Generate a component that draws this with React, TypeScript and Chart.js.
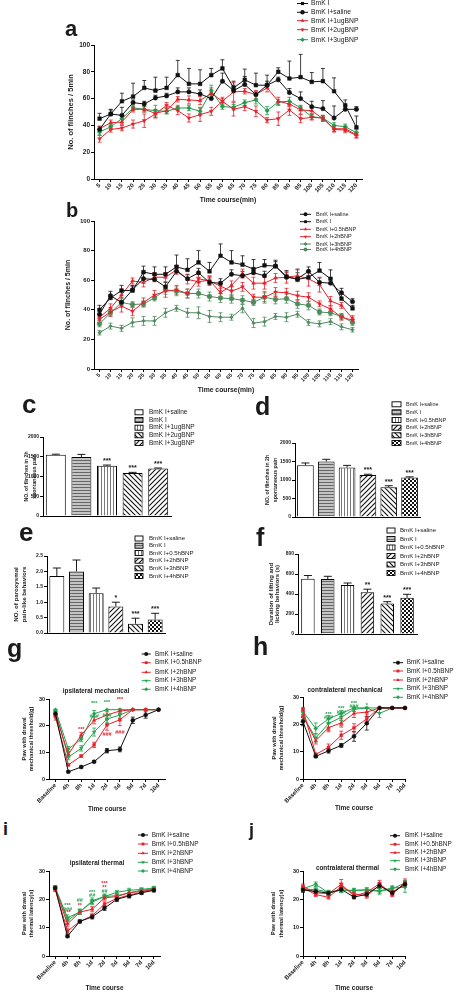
import React, { useEffect, useRef } from 'react';
import { Chart, registerables } from 'chart.js';

Chart.register(...registerables);

const FONT = '"Liberation Sans", Arial, Helvetica, sans-serif';
Chart.defaults.font.family = FONT;
Chart.defaults.color = '#1a1a1a';

const BLACK = '#111111';
const RED = '#e4222b';
const GREEN_A = '#1f9b4c';
const GREEN_B = '#4e8a5b';
const GREEN = '#22a34f';
const TEXT = '#1a1a1a';

// ---------------- Panel a ----------------
const timeLabels = ['5', '10', '15', '20', '25', '30', '35', '40', '45', '50', '55', '60', '65', '70', '75', '80', '85', '90', '95', '100', '105', '110', '115', '120'];
const aBmkI = [45, 48.5, 58, 61.5, 68, 66, 68, 77.5, 71, 71, 77.5, 82.5, 68, 74, 70, 70, 80, 75, 76, 72.5, 73, 65.5, 55, 38.5];
const aBmkIErr = [4, 3.5, 6, 10, 5.5, 10, 8, 11, 11.5, 10.5, 5, 6.5, 5, 8, 9, 7.5, 3, 13, 17, 7, 9.5, 10, 4, 8.5];
const aSaline = [37, 48.5, 47.5, 57, 56, 60.5, 62, 65, 65, 63.5, 60, 73, 66, 70.5, 63, 70, 74, 64.5, 60, 54, 52.5, 45.5, 52, 52];
const aSalineErr = [2, 3, 6, 2, 2, 2, 2, 3, 3, 3, 3, 6, 4, 6, 2, 3, 2, 3, 5, 4, 6, 9, 3, 2];
const a1ug = [37.5, 42, 42.5, 52, 52, 49, 51, 59.5, 59, 58.5, 64, 58, 65, 65.5, 63, 68, 58, 56, 51.5, 51, 45, 37.5, 37.5, 33];
const a1ugErr = [2, 2, 2, 2, 2, 3, 2, 2, 3, 3, 4, 2, 7, 2, 3, 3, 3, 2, 3, 2, 2, 2, 2, 2];
const a2ug = [30, 37, 38, 41, 43.5, 48.5, 55, 51, 45.5, 48, 50.5, 58, 52, 54, 50.5, 44, 45, 51.5, 45, 46, 45.5, 37, 36.5, 32.5];
const a2ugErr = [2.5, 2, 2, 3, 5, 3, 2, 3, 3, 5, 3, 3, 5, 3, 4, 2, 5, 4, 3, 2, 2, 2, 2, 2];
const a3ug = [35, 39, 45, 53, 52, 51, 50.5, 53, 53, 50.5, 66, 54, 53.5, 57, 59, 51, 57.5, 58, 53, 46.5, 45.5, 40, 39, 34.5];
const a3ugErr = [2, 2, 3, 2, 2, 4, 2, 2, 2, 3, 4, 2, 2, 2, 3, 3, 2, 3, 2, 2, 2, 2, 2, 2];

// ---------------- Panel b ----------------
const bSaline = [37, 49.5, 45, 53.5, 61, 60.5, 55.5, 66, 61, 65, 58.5, 58, 64, 63, 65, 63, 69.5, 62, 61, 66, 58.5, 58, 51.5, 45.5];
const bSalineErr = [3, 3, 3, 3, 4, 3, 3, 4, 3, 3, 3, 3, 3, 3, 3, 3, 3, 3, 4, 3, 3, 3, 3, 2];
const bBmkI = [40, 48, 53, 53, 65.5, 64, 64, 69, 67, 72, 66, 76.5, 72, 70.5, 67.5, 70, 69.5, 62.5, 60.5, 62, 66.5, 61, 47.5, 41];
const bBmkIErr = [3, 2, 3.5, 3, 4, 5, 5, 8, 7.5, 8, 6, 8, 8, 6, 6.5, 4, 4, 4, 7, 4, 5.5, 6, 4, 2];
const b05h = [35, 41, 50, 59.5, 58.5, 62, 62, 67, 60.5, 59, 60, 51.5, 56.5, 64.5, 58, 58, 61.5, 62, 63, 61, 57, 46, 43, 34];
const b05hErr = [2, 3, 4, 2, 3, 3, 3, 3, 3, 3, 3, 3, 3, 3, 4, 4, 3, 4, 4, 5, 5, 3, 2, 2];
const b2h = [33.5, 38.5, 42.5, 39, 45, 50, 52.5, 53.5, 51, 61, 59.5, 56, 52.5, 55.5, 48.5, 48.5, 52, 51.5, 49.5, 48.5, 44, 40.5, 35, 33];
const b2hErr = [2, 3, 4, 3, 3, 3, 4, 3, 3, 3, 3, 3, 3, 3, 2, 3, 3, 3, 3, 3, 2, 2, 2, 2];
const b3h = [24.5, 29, 27.5, 31.5, 32.5, 32.5, 38, 41, 38, 38, 35.5, 35, 35, 41, 31, 32, 35.5, 35, 37, 31.5, 30.5, 32, 28.5, 26.5];
const b3hErr = [1.5, 2, 2, 3, 3, 3, 3, 2, 3, 4, 4, 3, 2, 3, 3, 3, 2, 3, 2, 2, 2, 2, 2, 1.5];
const b4h = [30.5, 38, 45, 43.5, 44, 48, 53.5, 52.5, 51, 51, 49, 48, 47.5, 46.5, 45, 48.5, 47, 47.5, 44, 43, 38.5, 38, 35.5, 31.5];
const b4hErr = [2, 2, 3, 2, 2, 2, 3, 3, 3, 3, 3, 3, 3, 3, 2, 4, 3, 3, 3, 3, 2, 2, 2, 2];

// ---------------- Bar panels c-f ----------------
const cLabels = ['BmK I+saline', 'BmK I', 'BmK I+1ugBNP', 'BmK I+2ugBNP', 'BmK I+3ugBNP'];
const cValues = [1550, 1495, 1270, 1090, 1200];
const cErr = [15, 65, 20, 15, 15];
const cStars = ['', '', '***', '***', '***'];

const sixLabels = ['BmK I+saline', 'BmK I', 'BmK I+0.5hBNP', 'BmK I+2hBNP', 'BmK I+3hBNP', 'BmK I+4hBNP'];
const dValues = [1400, 1500, 1340, 1135, 805, 1065];
const dErr = [60, 60, 55, 20, 40, 20];
const dStars = ['', '', '', '***', '***', '***'];
const eValues = [1.85, 2.0, 1.29, 0.86, 0.3, 0.44];
const eErr = [0.26, 0.37, 0.17, 0.14, 0.18, 0.2];
const eStars = ['', '', '', '*', '***', '***'];
const fValues = [552, 550, 490, 418, 305, 362];
const fErr = [33, 27, 20, 30, 18, 35];
const fStars = ['', '', '', '**', '***', '***'];

// ---------------- Panels g-j ----------------
const courseLabels = ['Baseline', '4h', '8h', '1d', '2d', '3d', '5d', '7d', '10d'];
const groupLabels = ['BmK I+saline', 'BmK I+0.5hBNP', 'BmK I+2hBNP', 'BmK I+3hBNP', 'BmK I+4hBNP'];

const gSaline = [24.5, 2.7, 4.5, 6.5, 10.6, 11.1, 22, 24, 26];
const gSalineErr = [0.8, 0.3, 0.4, 0.4, 0.8, 0.9, 1.2, 1.2, 0];
const g05h = [23.3, 5.3, 8.6, 12.8, 20.3, 22.2, 26, 26, 26];
const g05hErr = [1.2, 0.4, 0.4, 1, 2, 2.2, 0, 0, 0];
const g2h = [24.5, 9.2, 16.5, 22, 24, 25.5, 26, 26, 26];
const g2hErr = [1, 1, 1, 1.3, 1.2, 0.8, 0, 0, 0];
const g3h = [25.5, 8.2, 11.5, 17.6, 22.5, 24, 26, 26, 26];
const g3hErr = [0.5, 1, 1, 1.5, 1.5, 1.2, 0, 0, 0];
const g4h = [26, 11.2, 15, 24.5, 26, 26, 26, 26, 26];
const g4hErr = [0, 1, 1, 1.2, 0, 0, 0, 0, 0];
const gNotes: [number, number, string, string][] = [
  [2, 18.6, '***', 'r'], [3, 28.3, '***', 'g'], [3, 23.3, '###', 'g'], [4, 28.8, '***', 'g'],
  [4, 23.8, '###', 'g'], [4, 16.8, '###', 'r'], [5, 29.8, '***', 'r'], [5, 17.5, '###', 'r'],
];

const hSaline = [21, 8.3, 10.3, 12.3, 15.6, 20.4, 26, 26, 26];
const hSalineErr = [1.5, 0.5, 0.8, 0.7, 1.8, 2.5, 0, 0, 0];
const h05h = [25.5, 9, 11.6, 16, 18.7, 22, 26, 26, 26];
const h05hErr = [0.6, 0.5, 1.2, 1.5, 1.5, 1.8, 0, 0, 0];
const h2h = [23, 14, 18.8, 20.5, 24, 24.5, 26, 26, 26];
const h2hErr = [1.2, 1.2, 1.5, 1.5, 1.5, 1.5, 0, 0, 0];
const h3h = [23, 15, 20.3, 22.6, 25.5, 26, 24, 26, 26];
const h3hErr = [1.5, 1.5, 1.5, 1.2, 0.8, 0, 1.5, 0, 0];
const h4h = [24.6, 18.5, 22, 24, 26, 26, 26, 26, 26];
const h4hErr = [1, 2, 1.2, 1, 0, 0, 0, 0, 0];
const hNotes: [number, number, string, string][] = [
  [2, 23.7, '***', 'g'], [2, 22.4, '###', 'g'], [2, 17.3, '**', 'r'], [3, 25.8, '***', 'g'],
  [3, 24.3, '###', 'g'], [3, 19.3, '**', 'r'], [4, 27.8, '***', 'g'], [4, 26.6, '###', 'g'], [5, 27, '*', 'g'],
];

const iSaline = [24, 7, 12.2, 13.8, 16.9, 20, 21.2, 22.3, 23.2];
const iSalineErr = [0.6, 0.5, 0.5, 0.7, 0.8, 0.8, 0.7, 0.6, 0.6];
const i05h = [23.5, 8.8, 12.2, 14.2, 18.3, 20.3, 21.5, 22.5, 23.5];
const i05hErr = [0.7, 0.8, 0.5, 0.7, 0.8, 0.8, 0.8, 0.6, 0.6];
const i2h = [24, 11.3, 15.5, 16.5, 20.5, 21, 22.3, 22.8, 23.5];
const i2hErr = [0.7, 1.0, 0.8, 0.9, 0.8, 0.7, 0.8, 0.6, 0.6];
const i3h = [24.3, 12.5, 15.7, 19, 21, 22.5, 23.2, 23.5, 24];
const i3hErr = [0.6, 1.0, 0.9, 0.9, 0.8, 0.6, 0.7, 0.6, 0.6];
const i4h = [24.2, 13.5, 15.5, 19.5, 21, 21.3, 22.3, 23.2, 23.8];
const i4hErr = [0.6, 1.0, 0.8, 1.0, 0.8, 0.7, 0.8, 0.6, 0.6];
const iNotes: [number, number, string, string][] = [
  [1, 17.8, '***', 'g'], [1, 16.5, '###', 'g'], [1, 15.3, '***', 'r'], [2, 19.5, '##', 'g'], [2, 17.9, '**', 'r'],
  [3, 22.5, '***', 'g'], [3, 21.2, '##', 'g'], [4, 25.7, '***', 'r'], [4, 24.1, '**', 'r'], [4, 22.7, '##', 'g'],
];

const jSaline = [23.3, 22.8, 22.2, 23.5, 20.8, 21.8, 24.8, 22.3, 25.3];
const jSalineErr = [0.8, 0.8, 0.7, 0.9, 0.6, 0.9, 0.9, 0.8, 0.9];
const j05h = [24.5, 22.3, 22, 25.3, 21.2, 22.5, 25.5, 21.8, 26];
const j05hErr = [0.9, 0.8, 0.7, 1.7, 0.7, 0.9, 1.2, 0.8, 1.2];
const j2h = [24, 21.7, 20.7, 24.5, 22, 21.2, 25, 22.5, 25.5];
const j2hErr = [0.8, 0.7, 0.6, 1.2, 0.8, 0.8, 1.0, 0.8, 1.0];
const j3h = [23.5, 23.5, 22.5, 23.3, 23, 23.3, 22.8, 23.7, 25.8];
const j3hErr = [0.8, 0.8, 0.7, 0.8, 0.7, 0.7, 1.0, 0.8, 0.9];
const j4h = [23.8, 25.3, 22.3, 23.2, 23.2, 23.4, 23, 24, 24.3];
const j4hErr = [0.8, 0.8, 0.7, 0.8, 0.7, 0.7, 0.8, 0.8, 1.8];

// ---------------- helpers ----------------
type Geo = { cl: number; ct: number; cw: number; ch: number; pl: number; pt: number; pr: number; pb: number };

function makePattern(kind: string): any {
  if (kind === 'white') return '#ffffff';
  const c = document.createElement('canvas');
  const ctx = c.getContext('2d')!;
  if (kind === 'hlines') {
    c.width = 4; c.height = 3;
    ctx.fillStyle = '#c4c4c4'; ctx.fillRect(0, 0, 4, 3);
    ctx.fillStyle = '#666666'; ctx.fillRect(0, 0, 4, 1);
  } else if (kind === 'vlines') {
    c.width = 3; c.height = 4;
    ctx.fillStyle = '#ffffff'; ctx.fillRect(0, 0, 3, 4);
    ctx.fillStyle = '#7a7a7a'; ctx.fillRect(0, 0, 1, 4);
  } else if (kind === 'diagF' || kind === 'diagB') {
    c.width = 5; c.height = 5;
    ctx.fillStyle = '#ffffff'; ctx.fillRect(0, 0, 5, 5);
    if (kind === 'diagB') { ctx.translate(5, 0); ctx.scale(-1, 1); }
    ctx.strokeStyle = '#111111'; ctx.lineWidth = 1.1;
    ctx.beginPath();
    ctx.moveTo(0, 5); ctx.lineTo(5, 0);
    ctx.moveTo(-1, 1); ctx.lineTo(1, -1);
    ctx.moveTo(4, 6); ctx.lineTo(6, 4);
    ctx.stroke();
  } else if (kind === 'check') {
    c.width = 4; c.height = 4;
    ctx.fillStyle = '#ffffff'; ctx.fillRect(0, 0, 4, 4);
    ctx.fillStyle = '#111111'; ctx.fillRect(0, 0, 2, 2); ctx.fillRect(2, 2, 2, 2);
  }
  return ctx.createPattern(c, 'repeat');
}

function drawMarker(ctx: CanvasRenderingContext2D, style: string, rot: number, x: number, y: number, r: number, color: string) {
  ctx.save();
  ctx.translate(x, y);
  ctx.rotate((rot * Math.PI) / 180);
  ctx.fillStyle = color;
  ctx.beginPath();
  if (style === 'circle') {
    ctx.arc(0, 0, r, 0, Math.PI * 2);
  } else if (style === 'rect') {
    const s = r / Math.SQRT2;
    ctx.rect(-s, -s, 2 * s, 2 * s);
  } else if (style === 'rectRot') {
    ctx.moveTo(0, -r); ctx.lineTo(r, 0); ctx.lineTo(0, r); ctx.lineTo(-r, 0); ctx.closePath();
  } else if (style === 'triangle') {
    ctx.moveTo(0, -r); ctx.lineTo(r * 0.866, r * 0.5); ctx.lineTo(-r * 0.866, r * 0.5); ctx.closePath();
  }
  ctx.fill();
  ctx.restore();
}

function drawErrors(chart: any, cap: number) {
  const ctx = chart.ctx;
  const ys = chart.scales.y;
  chart.data.datasets.forEach((ds: any, i: number) => {
    const errs = ds.errors;
    if (!errs) return;
    const meta = chart.getDatasetMeta(i);
    ctx.save();
    ctx.strokeStyle = ds.errorColor || (typeof ds.borderColor === 'string' ? ds.borderColor : '#000');
    ctx.lineWidth = ds.errorWidth || 0.8;
    meta.data.forEach((el: any, j: number) => {
      const v = ds.data[j];
      const e = errs[j];
      if (!e) return;
      const x = el.x;
      const y0 = ys.getPixelForValue(v);
      const dir = ds.errorDir || 'both';
      const ends: number[] = [];
      if (dir !== 'down') ends.push(ys.getPixelForValue(v + e));
      if (dir !== 'up') ends.push(ys.getPixelForValue(v - e));
      ctx.beginPath();
      ends.forEach((y1) => {
        ctx.moveTo(x, y0); ctx.lineTo(x, y1);
        ctx.moveTo(x - cap, y1); ctx.lineTo(x + cap, y1);
      });
      ctx.stroke();
    });
    ctx.restore();
  });
}

interface Decor {
  geo: Geo;
  bar?: boolean;
  cap: number;
  legend?: { x: number; len?: number; boxW?: number; boxH?: number; textX: number; ys: number[]; size: number; r?: number };
  stars?: string[];
  starSize?: number;
  notes?: [number, number, string, string][];
  noteSize?: number;
  texts?: { text: string; x: number; y: number; size: number }[];
}

function decorPlugin(o: Decor) {
  const ox = o.geo.cl;
  const oy = o.geo.ct;
  return {
    id: 'decor',
    beforeDatasetsDraw(chart: any) {
      if (!o.bar) drawErrors(chart, o.cap);
    },
    afterDatasetsDraw(chart: any) {
      const ctx = chart.ctx;
      if (o.bar) {
        drawErrors(chart, o.cap);
        const ds = chart.data.datasets[0];
        const meta = chart.getDatasetMeta(0);
        ctx.save();
        ctx.font = `bold ${o.starSize || 7}px ${FONT}`;
        ctx.fillStyle = TEXT;
        ctx.textAlign = 'center';
        ctx.textBaseline = 'middle';
        (o.stars || []).forEach((s, k) => {
          if (!s) return;
          const y = chart.scales.y.getPixelForValue(ds.data[k] + ds.errors[k]) - 4;
          ctx.fillText(s, meta.data[k].x, y);
        });
        ctx.restore();
      }
      if (o.notes) {
        ctx.save();
        ctx.font = `bold ${o.noteSize || 5.5}px ${FONT}`;
        ctx.textAlign = 'center';
        ctx.textBaseline = 'middle';
        o.notes.forEach(([i, v, t, c]) => {
          ctx.fillStyle = c === 'r' ? RED : GREEN;
          ctx.fillText(t, chart.scales.x.getPixelForValue(i), chart.scales.y.getPixelForValue(v));
        });
        ctx.restore();
      }
    },
    afterDraw(chart: any) {
      const ctx = chart.ctx;
      const L = o.legend;
      if (L) {
        ctx.save();
        ctx.font = `${L.size}px ${FONT}`;
        ctx.textBaseline = 'middle';
        ctx.textAlign = 'left';
        if (o.bar) {
          const ds = chart.data.datasets[0];
          const bw = L.boxW || 8;
          const bh = L.boxH || 5;
          chart.data.labels.forEach((lab: string, k: number) => {
            const y = L.ys[k] - oy;
            const x = L.x - ox;
            ctx.fillStyle = ds.backgroundColor[k];
            ctx.fillRect(x, y - bh / 2, bw, bh);
            ctx.strokeStyle = '#000';
            ctx.lineWidth = 0.9;
            ctx.strokeRect(x, y - bh / 2, bw, bh);
            ctx.fillStyle = TEXT;
            ctx.fillText(lab, L.textX - ox, y);
          });
        } else {
          chart.data.datasets.forEach((ds: any, k: number) => {
            const y = L.ys[k] - oy;
            const x = L.x - ox;
            const len = L.len || 10;
            ctx.strokeStyle = ds.borderColor;
            ctx.lineWidth = 1;
            ctx.beginPath();
            ctx.moveTo(x, y); ctx.lineTo(x + len, y);
            ctx.stroke();
            drawMarker(ctx, ds.pointStyle, ds.pointRotation || 0, x + len / 2, y, L.r || 2.2, ds.borderColor);
            ctx.fillStyle = TEXT;
            ctx.fillText(ds.label, L.textX - ox, y);
          });
        }
        ctx.restore();
      }
      if (o.texts) {
        ctx.save();
        ctx.textAlign = 'center';
        ctx.textBaseline = 'middle';
        ctx.fillStyle = TEXT;
        o.texts.forEach((t) => {
          ctx.font = `bold ${t.size}px ${FONT}`;
          ctx.fillText(t.text, t.x - ox, t.y - oy);
        });
        ctx.restore();
      }
    },
  };
}

interface AxisOpts {
  yMax: number; yStep: number; yTitle: string | string[]; yTick: number; yTitleSize: number; yTitleLH?: number; yTitlePad: number;
  yFmt?: (v: any) => string;
  xTicks: boolean; xTick?: number; xTitle?: string; xTitleSize?: number; xTitlePad?: number; offset: boolean;
}

function makeScales(geo: Geo, a: AxisOpts) {
  const yW = geo.pl - geo.cl;
  const xH = geo.ct + geo.ch - geo.pb;
  return {
    x: {
      type: 'category',
      offset: a.offset,
      grid: { display: a.xTicks, drawOnChartArea: false, drawTicks: a.xTicks, tickLength: 3, color: '#000', lineWidth: 1, offset: false },
      border: { display: true, color: '#000', width: 1 },
      ticks: {
        display: a.xTicks, autoSkip: false, maxRotation: 45, minRotation: 45, padding: 0,
        font: { size: a.xTick || 6, weight: 'bold' }, color: TEXT,
      },
      title: a.xTitle
        ? { display: true, text: a.xTitle, color: TEXT, font: { size: a.xTitleSize || 6.8, weight: 'bold' }, padding: { top: 0, bottom: a.xTitlePad || 0 } }
        : { display: false },
      afterFit: (s: any) => { s.height = xH; },
    },
    y: {
      min: 0,
      max: a.yMax,
      ticks: { stepSize: a.yStep, padding: 1, font: { size: a.yTick, weight: 'bold' }, color: TEXT, callback: a.yFmt || ((v: any) => String(v)) },
      grid: { drawOnChartArea: false, drawTicks: true, tickLength: 3, color: '#000', lineWidth: 1 },
      border: { display: true, color: '#000', width: 1 },
      title: {
        display: true, text: a.yTitle, color: TEXT,
        font: { size: a.yTitleSize, weight: 'bold', lineHeight: a.yTitleLH || 1.2 },
        padding: { top: a.yTitlePad, bottom: 0 },
      },
      afterFit: (s: any) => { s.width = yW; },
    },
  };
}

function baseOptions(geo: Geo, scales: any) {
  return {
    responsive: false,
    maintainAspectRatio: false,
    animation: false,
    events: [],
    layout: { padding: { left: 0, top: geo.pt - geo.ct, right: geo.cl + geo.cw - geo.pr, bottom: 0 } },
    plugins: { legend: { display: false }, tooltip: { enabled: false }, title: { display: false } },
    scales,
  };
}

function ser(label: string, data: number[], errors: number[], color: string, style: string, rot: number, dir: string, radius = 2.2) {
  return {
    label, data, errors, errorDir: dir,
    borderColor: color, backgroundColor: color,
    pointBackgroundColor: color, pointBorderColor: color,
    pointStyle: style, pointRotation: rot, pointRadius: radius, pointBorderWidth: 0.5,
    borderWidth: 1, tension: 0, fill: false,
  };
}

function lineConfig(geo: Geo, labels: string[], datasets: any[], axis: AxisOpts, decor: Decor) {
  return {
    type: 'line',
    data: { labels, datasets },
    options: baseOptions(geo, makeScales(geo, axis)),
    plugins: [decorPlugin(decor)],
  };
}

function barConfig(geo: Geo, labels: string[], values: number[], errors: number[], patterns: string[], barPct: number, axis: AxisOpts, decor: Decor) {
  return {
    type: 'bar',
    data: {
      labels,
      datasets: [{
        label: 'bars', data: values, errors, errorDir: 'up', errorColor: '#000', errorWidth: 0.9,
        backgroundColor: patterns.map(makePattern), borderColor: '#000', borderWidth: 1,
        barPercentage: barPct, categoryPercentage: 1,
      }],
    },
    options: baseOptions(geo, makeScales(geo, axis)),
    plugins: [decorPlugin({ ...decor, bar: true })],
  };
}

// ---------------- geometry ----------------
const GA: Geo = { cl: 60, ct: 0, cw: 312, ch: 205, pl: 94, pt: 45, pr: 362, pb: 179 };
const GB: Geo = { cl: 60, ct: 205, cw: 308, ch: 190, pl: 94, pt: 221, pr: 358, pb: 369 };
const GC: Geo = { cl: 20, ct: 400, cw: 180, ch: 126, pl: 43, pt: 437, pr: 171, pb: 516 };
const GD: Geo = { cl: 260, ct: 398, cw: 197, ch: 129, pl: 295, pt: 443, pr: 420, pb: 517 };
const GE: Geo = { cl: 12, ct: 530, cw: 188, ch: 113, pl: 47, pt: 556, pr: 165, pb: 633 };
const GF: Geo = { cl: 266, ct: 524, cw: 191, ch: 120, pl: 298, pt: 554, pr: 417, pb: 634 };
const GG: Geo = { cl: 20, ct: 645, cw: 190, ch: 169, pl: 49, pt: 699, pr: 165, pb: 779 };
const GH: Geo = { cl: 270, ct: 645, cw: 187, ch: 169, pl: 303, pt: 697, pr: 405, pb: 779 };
const GI: Geo = { cl: 20, ct: 825, cw: 190, ch: 167, pl: 49, pt: 871, pr: 160, pb: 956 };
const GJ: Geo = { cl: 270, ct: 825, cw: 187, ch: 167, pl: 303, pt: 871, pr: 405, pb: 956 };

const patC = ['white', 'hlines', 'vlines', 'diagB', 'diagF'];
const patSix = ['white', 'hlines', 'vlines', 'diagF', 'diagB', 'check'];

function groupSets(vals: number[][], errs: number[][]) {
  const colors = [BLACK, RED, RED, GREEN, GREEN];
  const styles = ['circle', 'rect', 'triangle', 'triangle', 'rectRot'];
  const rots = [0, 0, 0, 180, 0];
  return groupLabels.map((lab, k) => ser(lab, vals[k], errs[k], colors[k], styles[k], rots[k], 'both', 2));
}

const makeA = () => lineConfig(GA, timeLabels, [
  ser('BmK I', aBmkI, aBmkIErr, BLACK, 'rect', 0, 'up', 2.6),
  ser('BmK I+saline', aSaline, aSalineErr, BLACK, 'circle', 0, 'up'),
  ser('BmK I+1ugBNP', a1ug, a1ugErr, RED, 'triangle', 0, 'both'),
  ser('BmK I+2ugBNP', a2ug, a2ugErr, RED, 'triangle', 180, 'both'),
  ser('BmK I+3ugBNP', a3ug, a3ugErr, GREEN_A, 'rectRot', 0, 'both'),
], { yMax: 100, yStep: 20, yTitle: 'No. of flinches / 5min', yTick: 6.5, yTitleSize: 7.5, yTitlePad: 6, xTicks: true, xTick: 6, xTitle: 'Time course(min)', xTitleSize: 6.8, xTitlePad: 0.9, offset: true },
{ geo: GA, cap: 2, legend: { x: 297, len: 11, textX: 311, ys: [3.5, 12.3, 20.7, 29.7, 39.7], size: 6.75 } });

const makeB = () => lineConfig(GB, timeLabels, [
  ser('BmK I+saline', bSaline, bSalineErr, BLACK, 'circle', 0, 'up'),
  ser('BmK I', bBmkI, bBmkIErr, BLACK, 'rect', 0, 'up', 2.6),
  ser('BmK I+0.5hBNP', b05h, b05hErr, RED, 'triangle', 0, 'both'),
  ser('BmK I+2hBNP', b2h, b2hErr, RED, 'triangle', 180, 'both'),
  ser('BmK I+3hBNP', b3h, b3hErr, GREEN_B, 'rectRot', 0, 'both', 1.8),
  ser('BmK I+4hBNP', b4h, b4hErr, GREEN_B, 'circle', 0, 'both', 2.4),
], { yMax: 100, yStep: 20, yTitle: 'No. of flinches / 5min', yTick: 6, yTitleSize: 7, yTitlePad: 4, xTicks: true, xTick: 5.5, xTitle: 'Time course(min)', xTitleSize: 6.8, xTitlePad: 0.9, offset: true },
{ geo: GB, cap: 2, legend: { x: 300, len: 11, textX: 316, ys: [214.3, 221.7, 229.3, 236.7, 244, 249.5], size: 5.5, r: 2 } });

const makeC = () => barConfig(GC, cLabels, cValues, cErr, patC, 0.78,
  { yMax: 2000, yStep: 500, yTitle: ['NO. of flinches in 2h', 'spontaneous pain'], yTick: 5, yTitleSize: 5.2, yTitleLH: 1.5, yTitlePad: 2.8, xTicks: false, offset: true },
  { geo: GC, cap: 4, stars: cStars, starSize: 7, legend: { x: 135, boxW: 8, boxH: 5, textX: 149, ys: [412.3, 420, 427.7, 435.3, 443], size: 6.5 } });

const makeD = () => barConfig(GD, sixLabels, dValues, dErr, patSix, 0.8,
  { yMax: 2000, yStep: 500, yTitle: ['NO. of flinches in 2h', 'spontaneous pain'], yTick: 5, yTitleSize: 5.2, yTitleLH: 1.45, yTitlePad: 3.9, xTicks: false, offset: true },
  { geo: GD, cap: 4, stars: dStars, starSize: 7, legend: { x: 392, boxW: 9, boxH: 5, textX: 406, ys: [404.3, 412.3, 420, 427.7, 435.3, 443], size: 5.5 } });

const makeE = () => barConfig(GE, sixLabels, eValues, eErr, patSix, 0.76,
  { yMax: 2.5, yStep: 0.5, yFmt: (v: any) => Number(v).toFixed(1), yTitle: ['NO. of paroxysmal', 'pain-like behaviors'], yTick: 5, yTitleSize: 6.2, yTitleLH: 1.18, yTitlePad: 1, xTicks: false, offset: true },
  { geo: GE, cap: 4, stars: eStars, starSize: 7, legend: { x: 135, boxW: 8, boxH: 5, textX: 149, ys: [538.5, 545.7, 553, 560.7, 568.3, 576], size: 6.1 } });

const makeF = () => barConfig(GF, sixLabels, fValues, fErr, patSix, 0.68,
  { yMax: 800, yStep: 200, yTitle: ['Duration of lifting and', 'licking behaviors (s)'], yTick: 5, yTitleSize: 6, yTitleLH: 1.12, yTitlePad: 1.6, xTicks: false, offset: true },
  { geo: GF, cap: 4, stars: fStars, starSize: 7, legend: { x: 387, boxW: 8, boxH: 5, textX: 400, ys: [530.5, 539, 547.5, 556, 564.5, 573], size: 6.1 } });

const lineAxis = (title: string[], titlePad: number, xPad: number, offset: boolean): AxisOpts => ({
  yMax: 30, yStep: 10, yTitle: title, yTick: 5.5, yTitleSize: 5.6, yTitleLH: 1.3, yTitlePad: titlePad,
  xTicks: true, xTick: 6, xTitle: 'Time course', xTitleSize: 6.5, xTitlePad: xPad, offset,
});

const makeG = () => lineConfig(GG, courseLabels,
  groupSets([gSaline, g05h, g2h, g3h, g4h], [gSalineErr, g05hErr, g2hErr, g3hErr, g4hErr]),
  lineAxis(['Paw with drawal', 'mechanical threshold(g)'], 0.65, 1.1, true),
  { geo: GG, cap: 2, notes: gNotes, noteSize: 5.5, legend: { x: 141.7, len: 9, textX: 155, ys: [654, 662.7, 672.3, 680.7, 689.3], size: 6.4, r: 2 },
    texts: [{ text: 'ipsilateral mechanical', x: 96, y: 691, size: 6.4 }] });

const makeH = () => lineConfig(GH, courseLabels,
  groupSets([hSaline, h05h, h2h, h3h, h4h], [hSalineErr, h05hErr, h2hErr, h3hErr, h4hErr]),
  lineAxis(['Paw with drawal', 'mechanical threshold(g)'], 0.35, 1.8, false),
  { geo: GH, cap: 2, notes: hNotes, noteSize: 5.5, legend: { x: 393, len: 10, textX: 406.7, ys: [662.7, 671, 680, 688.7, 697.3], size: 6.4, r: 2 },
    texts: [{ text: 'contralateral mechanical', x: 345, y: 690, size: 6.4 }] });

const makeI = () => lineConfig(GI, courseLabels,
  groupSets([iSaline, i05h, i2h, i3h, i4h], [iSalineErr, i05hErr, i2hErr, i3hErr, i4hErr]),
  lineAxis(['Paw with drawal', 'thermal latency(s)'], 0.65, 0.1, true),
  { geo: GI, cap: 2, notes: iNotes, noteSize: 5.5, legend: { x: 138, len: 10, textX: 151.7, ys: [835, 844, 853.3, 862.3, 871], size: 6.4, r: 2 },
    texts: [{ text: 'ipsilateral thermal', x: 97, y: 863, size: 6.4 }] });

const makeJ = () => lineConfig(GJ, courseLabels,
  groupSets([jSaline, j05h, j2h, j3h, j4h], [jSalineErr, j05hErr, j2hErr, j3hErr, j4hErr]),
  lineAxis(['Paw with drawal', 'thermal latency(s)'], 0.1, 0.1, false),
  { geo: GJ, cap: 2, legend: { x: 390, len: 10, textX: 405, ys: [835.7, 844.3, 852.7, 860.7, 869.3], size: 6.4, r: 2 },
    texts: [{ text: 'contralateral thermal', x: 347.5, y: 868, size: 6.4 }] });

function ChartBox({ geo, make }: { geo: Geo; make: () => any }) {
  const ref = useRef<HTMLCanvasElement>(null);
  useEffect(() => {
    const chart = new Chart(ref.current as HTMLCanvasElement, make());
    return () => chart.destroy();
  }, []);
  return (
    <canvas
      ref={ref}
      width={geo.cw}
      height={geo.ch}
      style={{ position: 'absolute', left: geo.cl, top: geo.ct, width: geo.cw, height: geo.ch, display: 'block' }}
    />
  );
}

function Letter({ t, x, base, size }: { t: string; x: number; base: number; size: number }) {
  return (
    <div style={{ position: 'absolute', left: x, top: base - 0.85 * size, fontSize: size, lineHeight: 1, fontWeight: 'bold', fontFamily: FONT, color: TEXT }}>
      {t}
    </div>
  );
}

export default function App() {
  return (
    <div style={{ position: 'absolute', left: 0, top: 0, width: 457, height: 992, background: '#ffffff', overflow: 'hidden' }}>
      <ChartBox geo={GA} make={makeA} />
      <ChartBox geo={GB} make={makeB} />
      <ChartBox geo={GC} make={makeC} />
      <ChartBox geo={GD} make={makeD} />
      <ChartBox geo={GE} make={makeE} />
      <ChartBox geo={GF} make={makeF} />
      <ChartBox geo={GG} make={makeG} />
      <ChartBox geo={GH} make={makeH} />
      <ChartBox geo={GI} make={makeI} />
      <ChartBox geo={GJ} make={makeJ} />
      <Letter t="a" x={65} base={37} size={22} />
      <Letter t="b" x={66} base={217} size={20} />
      <Letter t="c" x={22} base={413} size={26} />
      <Letter t="d" x={255} base={415} size={25} />
      <Letter t="e" x={19} base={541} size={26} />
      <Letter t="f" x={256} base={546} size={25} />
      <Letter t="g" x={7} base={657} size={25} />
      <Letter t="h" x={253} base={655} size={25} />
      <Letter t="i" x={3} base={835} size={18} />
      <Letter t="j" x={249} base={836} size={18} />
    </div>
  );
}
